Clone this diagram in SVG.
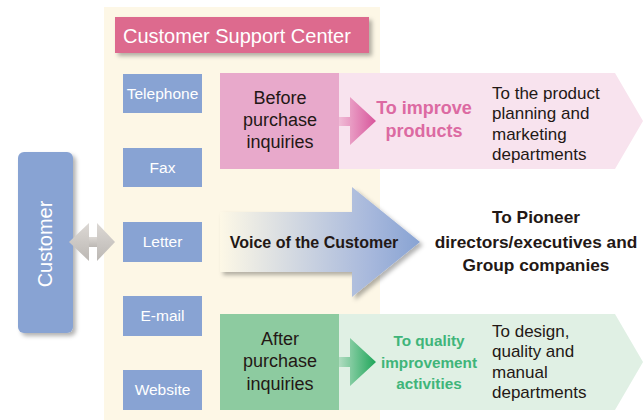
<svg xmlns="http://www.w3.org/2000/svg" width="643" height="420" viewBox="0 0 643 420">
<style>
.ch{fill:#88a3d3}
.cht{font-family:"Liberation Sans",Arial,sans-serif;font-size:15.5px;fill:#ffffff;text-anchor:middle}
.blk{font-family:"Liberation Sans",Arial,sans-serif;fill:#231815}
.mid{text-anchor:middle}
</style>
<defs>
<filter id="sh" x="-20%" y="-20%" width="140%" height="150%">
<feDropShadow dx="3" dy="3" stdDeviation="2" flood-color="#000" flood-opacity="0.3"/>
</filter>
<linearGradient id="gBlue" x1="0" y1="0" x2="1" y2="0">
<stop offset="0" stop-color="#fdf8e6"/>
<stop offset="0.75" stop-color="#a7b8dc"/>
<stop offset="1" stop-color="#88a3d3"/>
</linearGradient>
<linearGradient id="gPink" x1="0" y1="0" x2="1" y2="0">
<stop offset="0" stop-color="#f0bcd6"/>
<stop offset="1" stop-color="#d8559b"/>
</linearGradient>
<linearGradient id="gGreen" x1="0" y1="0" x2="1" y2="0">
<stop offset="0" stop-color="#b0dcc0"/>
<stop offset="1" stop-color="#1fa65a"/>
</linearGradient>
<linearGradient id="gGray" x1="0" y1="0" x2="0" y2="1">
<stop offset="0" stop-color="#dcd8d4"/>
<stop offset="1" stop-color="#bcb8b4"/>
</linearGradient>
</defs>

<g id="center-bg">
<rect x="104" y="7" width="276" height="413" fill="#fdf7e6"/>
</g>

<g id="title">
<rect x="115" y="17" width="254" height="36" fill="#dd6b8e" filter="url(#sh)"/>
<text x="123" y="43" font-family="'Liberation Sans',Arial,sans-serif" font-size="20" fill="#ffffff">Customer Support Center</text>
</g>

<g id="customer">
<rect x="18" y="152" width="55" height="181" rx="6" class="ch" filter="url(#sh)"/>
<text transform="translate(52,244) rotate(-90)" text-anchor="middle" font-family="'Liberation Sans',Arial,sans-serif" font-size="20" fill="#ffffff">Customer</text>
</g>

<g id="channels">
<g id="telephone"><rect x="123" y="74" width="79" height="39" class="ch"/><text x="162.5" y="99" class="cht">Telephone</text></g>
<g id="fax"><rect x="123" y="148" width="79" height="39" class="ch"/><text x="162.5" y="173" class="cht">Fax</text></g>
<g id="letter"><rect x="123" y="222" width="79" height="40" class="ch"/><text x="162.5" y="247" class="cht">Letter</text></g>
<g id="email"><rect x="123" y="296" width="79" height="40" class="ch"/><text x="162.5" y="321" class="cht">E-mail</text></g>
<g id="website"><rect x="123" y="370" width="79" height="40" class="ch"/><text x="162.5" y="395" class="cht">Website</text></g>
</g>

<g id="before">
<polygon points="339,73 615,73 643,121 615,169 339,169" fill="#f8e3ee"/>
<rect x="220" y="73" width="119" height="96" fill="#e8a9cb"/>
<text class="blk mid" font-size="18"><tspan x="280" y="104">Before</tspan><tspan x="280" y="126">purchase</tspan><tspan x="280" y="148">inquiries</tspan></text>
</g>
<g id="improve">
<text font-family="'Liberation Sans',Arial,sans-serif" font-weight="bold" font-size="18" fill="#dc6aa2" text-anchor="middle"><tspan x="424" y="114">To improve</tspan><tspan x="424" y="137">products</tspan></text>
</g>
<g id="planning">
<text class="blk" font-size="17"><tspan x="492" y="99">To the product</tspan><tspan x="492" y="119">planning and</tspan><tspan x="492" y="140">marketing</tspan><tspan x="492" y="160">departments</tspan></text>
</g>

<g id="voc">
<polygon points="220,212 352,212 352,187 420,242 352,297 352,272 220,272" fill="url(#gBlue)" filter="url(#sh)"/>
<text x="314" y="248" class="blk mid" font-size="16" font-weight="bold">Voice of the Customer</text>
</g>
<g id="pioneer">
<text class="blk mid" font-size="17.3" font-weight="bold"><tspan x="536" y="223">To Pioneer</tspan><tspan x="536" y="248">directors/executives and</tspan><tspan x="536" y="271">Group companies</tspan></text>
</g>

<g id="after">
<polygon points="339,314 615,314 643,362 615,410 339,410" fill="#e0f0e4"/>
<rect x="220" y="314" width="119" height="96" fill="#8dcba0"/>
<text class="blk mid" font-size="18"><tspan x="280" y="345">After</tspan><tspan x="280" y="367">purchase</tspan><tspan x="280" y="390">inquiries</tspan></text>
</g>
<g id="quality">
<text font-family="'Liberation Sans',Arial,sans-serif" font-weight="bold" font-size="15.3" fill="#3fb57a" text-anchor="middle"><tspan x="429" y="346">To quality</tspan><tspan x="429" y="368">improvement</tspan><tspan x="429" y="389">activities</tspan></text>
</g>
<g id="design">
<text class="blk" font-size="17"><tspan x="492" y="337">To design,</tspan><tspan x="492" y="357">quality and</tspan><tspan x="492" y="378">manual</tspan><tspan x="492" y="398">departments</tspan></text>
</g>

<g id="connectors">
<polygon points="69,242 89,223 89,261" fill="url(#gGray)"/>
<rect x="89" y="237" width="8" height="10" fill="url(#gGray)"/>
<polygon points="115,242 97,223 97,261" fill="url(#gGray)"/>
<polygon points="339,117 350,117 350,97 376,121 350,145 350,126 339,126" fill="url(#gPink)"/>
<polygon points="339,357 350,357 350,338 376,362 350,386 350,367 339,367" fill="url(#gGreen)"/>
</g>
</svg>
